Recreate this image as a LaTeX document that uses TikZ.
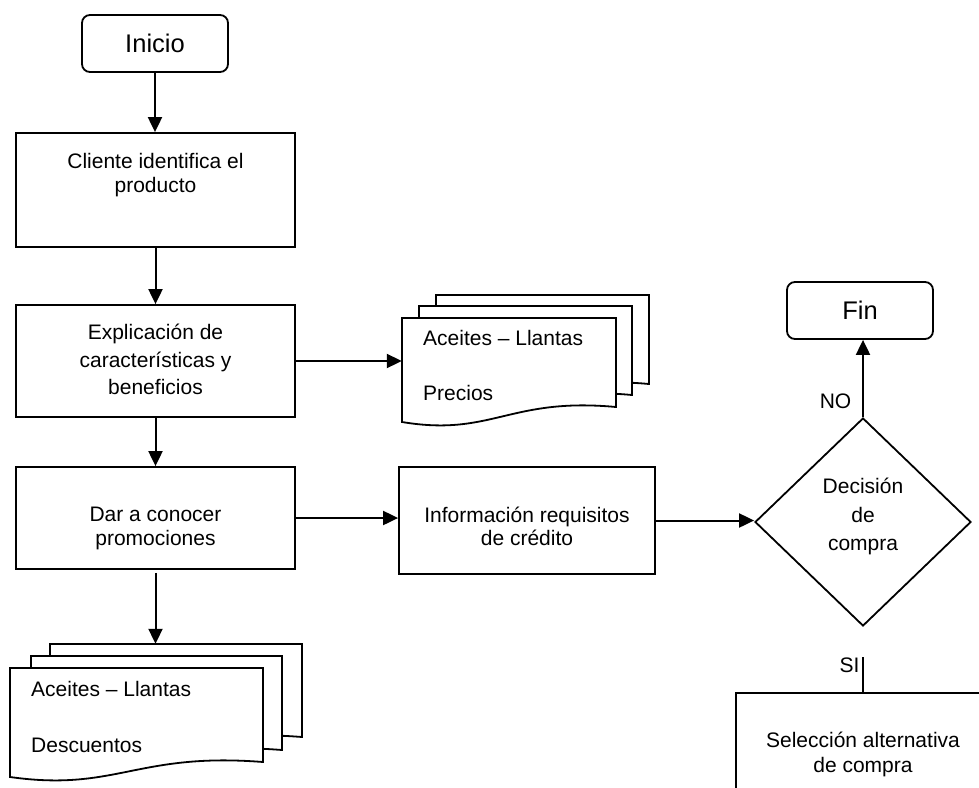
\documentclass[tikz,border=0pt]{standalone}
\usepackage{fontspec}
\setmainfont{Liberation Sans}
\usetikzlibrary{arrows.meta,shapes.geometric}

% one page of a stacked-document symbol: left, top, right, bottom-right y
\newcommand\docpage[4]{%
  \draw[docline] (#1,#2) -- (#3,#2) -- (#3,#4)
    .. controls ({#1+0.5*(#3-#1)},{#4-10}) and ({#1+0.42*(#3-#1)},{#4+30}) .. (#1,{#4+15})
    -- cycle;}

\begin{document}
\begin{tikzpicture}[x=1pt,y=-1pt,
  box/.style={draw,line width=1.8pt,rectangle,inner sep=0pt},
  term/.style={box,rounded corners=8pt,font=\fontsize{25.5}{30}\selectfont},
  ghost/.style={rectangle,inner sep=0pt},
  docline/.style={line width=1.8pt,fill=white,line join=miter},
  txt/.style={align=center,inner sep=0pt,font=\fontsize{21}{24}\selectfont},
  lbl/.style={inner sep=0pt,font=\fontsize{21}{24}\selectfont},
  flow/.style={line width=2pt,-{Triangle[length=15pt,width=14pt]}},
  conn/.style={line width=2pt},
]
\useasboundingbox (0,0) rectangle (979,787);
\clip (0,0) rectangle (979,787);

% start
\node[term,minimum width=146pt,minimum height=57pt] (inicio) at (155,43.5) {Inicio};

% process steps
\node[box,minimum width=279pt,minimum height=114pt] (cliente) at (155.5,190) {};
\node[txt] (clienteT) at (155.5,175) {Cliente identifica el\\producto};

\node[box,minimum width=279pt,minimum height=112pt] (expl) at (155.5,361) {};
\node[txt,font=\fontsize{21}{27.5}\selectfont] (explT) at (155.5,359.5)
  {Explicación de\\características y\\beneficios};

\node[box,minimum width=279pt,minimum height=102pt] (dar) at (155.5,518) {};
\node[txt,font=\fontsize{21}{23.5}\selectfont] (darT) at (155.5,528.5) {Dar a conocer\\promociones};

\node[box,minimum width=256pt,minimum height=107pt] (info) at (527,520.5) {};
\node[txt,font=\fontsize{21}{23.5}\selectfont] (infoT) at (527,526.5) {Información requisitos\\de crédito};

% decision
\node[diamond,draw,line width=1.8pt,inner sep=0pt,aspect=1.04,
      minimum width=216pt,minimum height=208pt] (dec) at (863,522) {};
\node[txt,font=\fontsize{21}{28.5}\selectfont] (decT) at (863,516.5) {Decisión\\de\\compra};

% end
\node[term,minimum width=146pt,minimum height=57pt] (fin) at (860,310.5) {Fin};

% purchase alternative (runs past the page edge)
\node[box,minimum width=400pt,minimum height=200pt] (sel) at (936,793) {};
\node[txt,font=\fontsize{21}{25}\selectfont] (selT) at (863,754.5) {Selección alternativa\\de compra};

% price sheets
\docpage{436}{295}{649}{384}
\docpage{419}{306}{632}{395}
\docpage{402}{318}{616}{407}
\node[ghost,minimum width=214pt,minimum height=89pt] (precios) at (509,362.5) {};
\node[lbl,anchor=base west] (preciosA) at (423,345) {Aceites – Llantas};
\node[lbl,anchor=base west] (preciosB) at (423,400) {Precios};

% discount sheets
\docpage{50}{644}{302}{737}
\docpage{31}{656}{282}{750}
\docpage{10}{668}{263}{762}
\node[ghost,minimum width=252pt,minimum height=93pt] (descuentos) at (176,690.5) {};
\node[lbl,anchor=base west] (descA) at (31,696) {Aceites – Llantas};
\node[lbl,anchor=base west] (descB) at (31,752) {Descuentos};

% connectors
\draw[flow] (inicio) -- (inicio |- cliente.north);
\draw[flow] (cliente) -- (expl);
\draw[flow] (expl) -- (dar);
\draw[flow] (expl.east) -- (expl.east -| precios.west);
\draw[flow] (dar.east) -- (dar.east -| info.west);
\draw[flow] (info.east) -- (info.east -| dec.west);
\draw[flow,shorten <=3pt] (dar.south) -- (dar.south |- descuentos.north);
\draw[flow] (dec.north) -- (dec.north |- fin.south);
\node[lbl] (no) at (835.5,401) {NO};

\coordinate (siTop) at (863,657);
\draw[conn] (siTop) -- (siTop |- sel.north);
\node[lbl] (si) at (849.5,665.5) {SI};
\end{tikzpicture}
\end{document}
